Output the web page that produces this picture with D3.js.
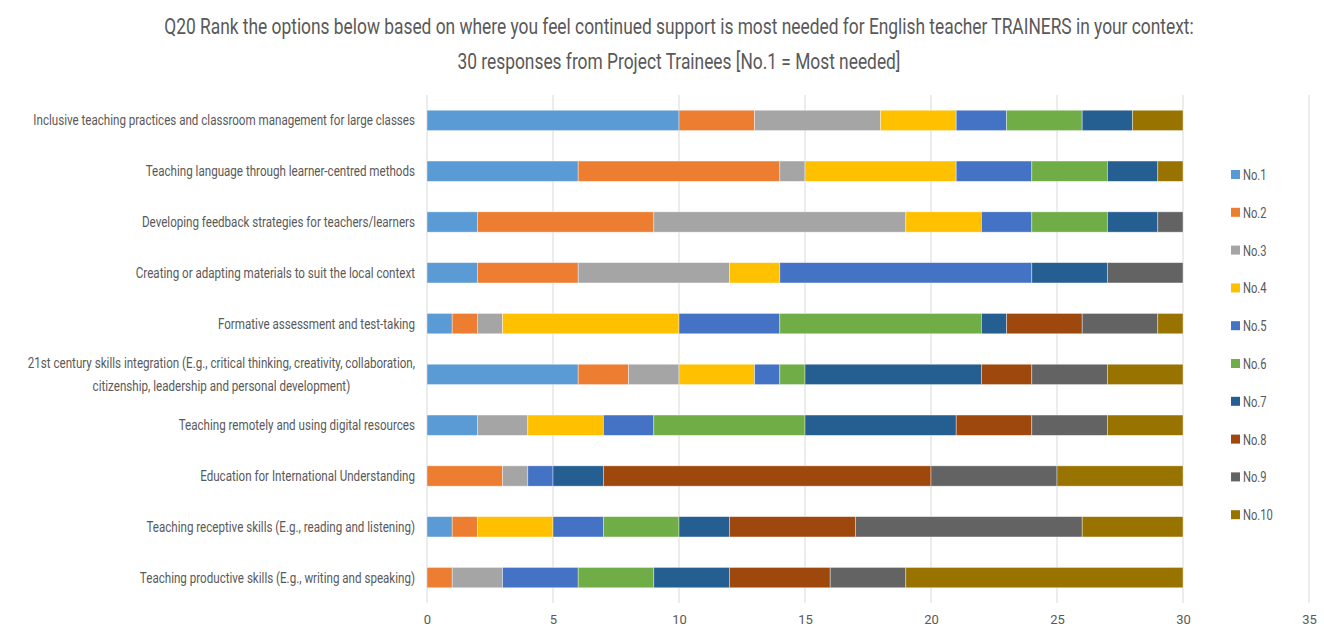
<!DOCTYPE html>
<html>
<head>
<meta charset="utf-8">
<script src="https://cdn.jsdelivr.net/npm/d3@7"></script>
<style>
  html, body { margin: 0; padding: 0; background: #fff; }
  svg text { font-family: Roboto, "Open Sans", sans-serif; }
</style>
</head>
<body>
<svg id="chart" width="1324" height="634"></svg>
<script>
// Topics, top to bottom; "\n" splits a label over two lines
const categories = [
  "Inclusive teaching practices and classroom management for large classes",
  "Teaching language through learner-centred methods",
  "Developing feedback strategies for teachers/learners",
  "Creating or adapting materials to suit the local context",
  "Formative assessment and test-taking",
  "21st century skills integration (E.g., critical thinking, creativity, collaboration,\ncitizenship, leadership and personal development)",
  "Teaching remotely and using digital resources",
  "Education for International Understanding",
  "Teaching receptive skills (E.g., reading and listening)",
  "Teaching productive skills (E.g., writing and speaking)"
];

const seriesNames = ["No.1","No.2","No.3","No.4","No.5","No.6","No.7","No.8","No.9","No.10"];

// Number of trainees giving each rank, one array per rank, same order as categories
const no1  = [10, 6,  2,  2, 1, 6, 2,  0, 1, 0];
const no2  = [ 3, 8,  7,  4, 1, 2, 0,  3, 1, 1];
const no3  = [ 5, 1, 10,  6, 1, 2, 2,  1, 0, 2];
const no4  = [ 3, 6,  3,  2, 7, 3, 3,  0, 3, 0];
const no5  = [ 2, 3,  2, 10, 4, 1, 2,  1, 2, 3];
const no6  = [ 3, 3,  3,  0, 8, 1, 6,  0, 3, 3];
const no7  = [ 2, 2,  2,  3, 1, 7, 6,  2, 2, 3];
const no8  = [ 0, 0,  0,  0, 3, 2, 3, 13, 5, 4];
const no9  = [ 0, 0,  1,  3, 3, 3, 3,  5, 9, 3];
const no10 = [ 2, 1,  0,  0, 1, 3, 3,  5, 4, 11];
const seriesValues = [no1, no2, no3, no4, no5, no6, no7, no8, no9, no10];

const colors = ["#5B9BD5","#ED7D31","#A5A5A5","#FFC000","#4472C4",
                "#70AD47","#255E91","#9E480E","#636363","#997300"];

const xTicks = [0, 5, 10, 15, 20, 25, 30, 35];

const titleLines = [
  "Q20 Rank the options below based on where you feel continued support is most needed for English teacher TRAINERS in your context:",
  "30 responses from Project Trainees [No.1 = Most needed]"
];

// ---- build stacked rows ----
const rows = categories.map((c, i) => {
  const r = { category: c };
  seriesNames.forEach((s, k) => { r[s] = seriesValues[k][i]; });
  return r;
});
const stacked = d3.stack().keys(seriesNames)(rows);

const svg = d3.select("#chart");
const margin = { left: 427, right: 15, top: 95, bottom: 31 };
const W = 1324, H = 634;
const textColor = "#595959";

const x = d3.scaleLinear().domain([0, 35]).range([margin.left, W - margin.right]);
const y = d3.scaleBand().domain(categories).range([margin.top, H - margin.bottom]).paddingInner(0.6).paddingOuter(0.3);
const color = d3.scaleOrdinal().domain(seriesNames).range(colors);

// Condensed look: text is drawn inside groups squeezed horizontally
const condense = 0.8;

// gridlines
svg.append("g")
  .selectAll("line")
  .data(xTicks)
  .join("line")
  .attr("x1", d => x(d)).attr("x2", d => x(d))
  .attr("y1", margin.top).attr("y2", H - margin.bottom)
  .attr("stroke", "#d9d9d9").attr("stroke-width", 1);

// x axis labels
const xAxis = d3.axisBottom(x).tickValues(xTicks).tickSize(0).tickPadding(12);
svg.append("g")
  .attr("transform", `translate(0,${H - margin.bottom})`)
  .call(xAxis)
  .call(g => g.select(".domain").remove())
  .call(g => g.selectAll("text")
    .attr("fill", textColor)
    .style("font-size", "13px")
    .style("font-family", "Roboto, sans-serif"));

// bars
svg.append("g")
  .selectAll("g")
  .data(stacked)
  .join("g")
  .attr("fill", d => color(d.key))
  .selectAll("rect")
  .data(d => d.filter(p => p[1] - p[0] > 0))
  .join("rect")
  .attr("x", d => x(d[0]))
  .attr("width", d => x(d[1]) - x(d[0]))
  .attr("y", d => y(d.data.category))
  .attr("height", y.bandwidth())
  .attr("stroke", "#ffffff")
  .attr("stroke-opacity", 0.5)
  .attr("stroke-width", 0.75);

// category labels
const labelRight = margin.left - 12;
const labels = svg.append("g");
categories.forEach(c => {
  const lines = c.split("\n");
  const cy = y(c) + y.bandwidth() / 2;
  const lh = 23;
  const g = labels.append("g")
    .attr("transform", `translate(${labelRight},0) scale(${condense},1)`);
  const t = g.append("text")
    .attr("fill", textColor)
    .style("font-size", "14.5px");
  lines.forEach((ln, j) => {
    t.append("tspan")
      .attr("y", cy + (j - (lines.length - 1) / 2) * lh)
      .attr("dy", "0.35em")
      .text(ln);
  });
  if (lines.length === 1) {
    t.attr("text-anchor", "end").selectAll("tspan").attr("x", 0);
  } else {
    // wrapped label: lines centred on the block, block right-aligned
    let maxW = 0;
    t.selectAll("tspan").each(function () { maxW = Math.max(maxW, this.getComputedTextLength()); });
    t.attr("text-anchor", "middle").selectAll("tspan").attr("x", -maxW / 2);
  }
});

// title
svg.append("g")
  .attr("transform", `translate(679,0) scale(${condense},1)`)
  .selectAll("text")
  .data(titleLines)
  .join("text")
  .attr("x", 0)
  .attr("y", (d, i) => 26 + i * 35)
  .attr("dy", "0.35em")
  .attr("text-anchor", "middle")
  .attr("fill", textColor)
  .style("font-size", "21.7px")
  .text(d => d);

// legend
const legend = svg.append("g").attr("transform", "translate(1231,175)");
const legItems = legend.selectAll("g")
  .data(seriesNames)
  .join("g")
  .attr("transform", (d, i) => `translate(0,${i * 37.8})`);
legItems.append("rect")
  .attr("x", 0).attr("y", -5).attr("width", 9).attr("height", 9)
  .attr("fill", d => color(d));
legItems.append("g")
  .attr("transform", `translate(12,0) scale(${condense},1)`)
  .append("text")
  .attr("x", 0).attr("y", 0).attr("dy", "0.35em")
  .attr("fill", textColor)
  .style("font-size", "14px")
  .text(d => d);
</script>
</body>
</html>
